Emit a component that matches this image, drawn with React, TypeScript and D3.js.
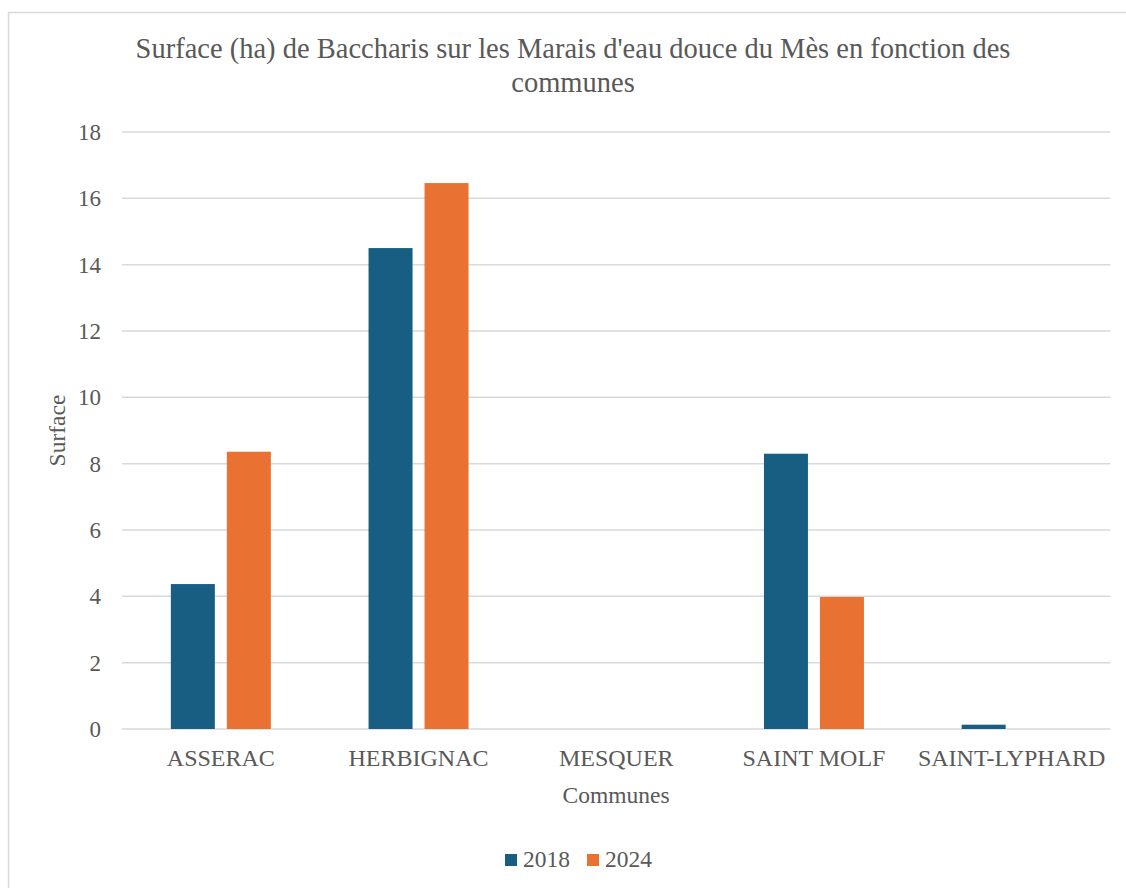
import React from "react";
import * as d3 from "d3";

const categories = ["ASSERAC", "HERBIGNAC", "MESQUER", "SAINT MOLF", "SAINT-LYPHARD"];
const seriesNames = ["2018", "2024"];
const values2018 = [4.37, 14.5, 0, 8.3, 0.13];
const values2024 = [8.36, 16.46, 0, 3.98, 0];
const yTicks = [0, 2, 4, 6, 8, 10, 12, 14, 16, 18];
const colors = ["#175E82", "#E97232"];
const titleLines = ["Surface (ha) de Baccharis sur les Marais d'eau douce du Mès en fonction des", "communes"];

const W = 1126;
const H = 888;
const plot = { left: 122, right: 1110.5, top: 132, bottom: 729 };
const FONT = "Liberation Serif, serif";
const TXT = "#595959";

export default function App() {
  const x = d3.scaleBand<string>().domain(categories).range([plot.left, plot.right]).paddingInner(0).paddingOuter(0);
  const y = d3.scaleLinear().domain([0, 18]).range([plot.bottom, plot.top]);
  const barW = 44;
  const gap = 12;
  const series = [values2018, values2024];

  return (
    <svg width={W} height={H} style={{ position: "absolute", left: 0, top: 0, background: "#fff", fontFamily: FONT }}>
      <rect x={8.5} y={12.5} width={W + 20} height={H + 20} fill="#fff" stroke="#D9D9D9" strokeWidth={1.5} />
      {titleLines.map((t, i) => (
        <text key={i} x={573} y={58 + i * 34} textAnchor="middle" fontSize={28.5} fill={TXT} style={{ fontFamily: FONT }}>{t}</text>
      ))}
      {yTicks.map((t) => (
        <g key={t}>
          <line x1={plot.left} x2={plot.right} y1={y(t)} y2={y(t)} stroke="#D9D9D9" strokeWidth={1.5} />
          <text x={101} y={y(t)} dy="0.35em" textAnchor="end" fontSize={23} fill={TXT} style={{ fontFamily: FONT }}>{t}</text>
        </g>
      ))}
      {series.map((vals, si) =>
        categories.map((c, ci) => {
          const cx = (x(c) as number) + x.bandwidth() / 2;
          const bx = si === 0 ? cx - gap / 2 - barW : cx + gap / 2;
          const v = vals[ci];
          if (v <= 0) return null;
          return <rect key={`${si}-${ci}`} x={bx} y={y(v)} width={barW} height={y(0) - y(v)} fill={colors[si]} />;
        })
      )}
      {categories.map((c) => (
        <text key={c} x={(x(c) as number) + x.bandwidth() / 2} y={766} textAnchor="middle" fontSize={24} fill={TXT} style={{ fontFamily: FONT }}>{c}</text>
      ))}
      <text x={616} y={803} textAnchor="middle" fontSize={23.5} fill={TXT} style={{ fontFamily: FONT }}>Communes</text>
      <text transform={`translate(65, ${(plot.top + plot.bottom) / 2}) rotate(-90)`} textAnchor="middle" fontSize={23.5} fill={TXT} style={{ fontFamily: FONT }}>Surface</text>
      {seriesNames.map((s, i) => {
        const lx = 505 + i * 82;
        return (
          <g key={s}>
            <rect x={lx} y={854} width={12} height={12} fill={colors[i]} />
            <text x={lx + 18} y={867} fontSize={23.5} fill={TXT} style={{ fontFamily: FONT }}>{s}</text>
          </g>
        );
      })}
    </svg>
  );
}
